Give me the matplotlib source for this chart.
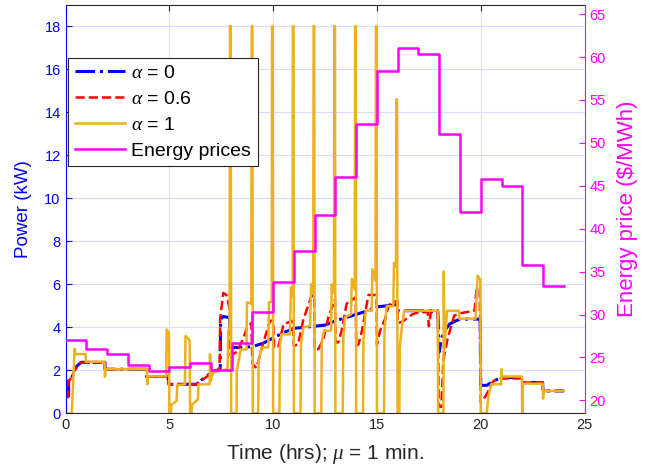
import matplotlib
matplotlib.use("Agg")
import matplotlib.pyplot as plt
import numpy as np

plt.rcParams['font.family'] = ['Liberation Sans', 'DejaVu Sans']
plt.rcParams['mathtext.fontset'] = 'custom'
plt.rcParams['mathtext.it'] = 'Liberation Serif:italic'
plt.rcParams['mathtext.rm'] = 'Liberation Sans'

# ---- data ----
price_hours = list(range(25))
prices = [27.0, 26.0, 25.4, 24.1, 23.4, 23.9, 24.4, 23.6, 26.7, 30.35, 33.85, 37.4,
          41.6, 46.0, 52.2, 58.4, 61.0, 60.4, 51.0, 41.9, 45.85, 45.0, 35.8, 33.3]

t_a0 = [0, 0.15, 0.15, 0.3, 0.4, 0.55, 0.75, 1.9, 1.9, 3.9, 3.9, 4.95, 4.95, 6.3, 6.8,
        7.2, 7.45, 7.47, 7.6, 7.9, 7.92, 8.5, 9.0, 9.5, 10.0, 10.5, 11.0, 11.5, 12.0,
        12.5, 13.0, 13.5, 14.0, 14.5, 15.0, 15.5, 15.95, 16.0, 17.93, 18.0, 18.1, 18.3,
        18.5, 18.8, 19.0, 19.97, 20.0, 20.3, 20.6, 21.0, 21.97, 22.0, 22.98, 23.0, 24.0]
p_a0 = [0.8, 0.8, 1.6, 1.6, 1.97, 2.2, 2.37, 2.37, 2.05, 2.05, 1.71, 1.71, 1.35, 1.35, 1.74,
        1.97, 2.05, 4.38, 4.5, 4.45, 3.06, 3.06, 3.1, 3.25, 3.5, 3.75, 3.95, 4.0, 4.05,
        4.1, 4.3, 4.45, 4.6, 4.75, 4.95, 5.0, 5.05, 4.77, 4.77, 2.85, 3.45, 3.9,
        4.15, 4.3, 4.38, 4.38, 1.3, 1.3, 1.5, 1.66, 1.66, 1.43, 1.43, 1.04, 1.04]

t_a06 = [0, 0.12, 0.14, 0.3, 0.4, 0.55, 0.75, 1.9, 1.9, 3.9, 3.9, 4.95, 4.95, 6.3, 6.8,
         7.2, 7.42, 7.45, 7.6, 7.75, 7.92, 7.95, 8.25, 8.57, 8.75, 8.95, 9.0, 9.2, 9.5,
         9.85, 10.0, 10.05, 10.25, 10.5, 10.95, 11.0, 11.2, 11.46, 11.86, 11.98, 12.0,
         12.18, 12.42, 12.66, 12.9, 12.98, 13.0, 13.14, 13.3, 13.54, 13.98, 14.0, 14.11,
         14.27, 14.59, 14.98, 15.0, 15.15, 15.39, 15.55, 15.71, 15.98, 16.0, 16.2, 16.7,
         17.0, 17.45, 17.5, 17.6, 17.93, 17.98, 18.1, 18.2, 18.4, 18.72, 19.0, 19.7, 19.8,
         19.95, 20.0, 20.2, 20.4, 20.6, 21.0, 21.97, 22.0, 22.98, 23.0, 24.0]
p_a06 = [0.75, 0.75, 1.5, 1.65, 1.95, 2.15, 2.35, 2.35, 2.05, 2.05, 1.7, 1.7, 1.35, 1.35, 1.7,
         1.95, 2.05, 4.4, 5.6, 5.5, 4.8, 2.7, 2.85, 3.5, 4.0, 4.2, 2.3, 2.1, 3.2,
         4.3, 4.3, 3.06, 3.06, 4.15, 4.3, 3.14, 3.2, 4.38, 5.47, 5.47, 2.98,
         2.98, 3.45, 4.46, 5.1, 5.3, 3.3, 3.3, 3.84, 5.1, 5.4, 3.14, 3.2,
         3.8, 5.5, 5.5, 3.2, 3.84, 4.38, 4.95, 5.2, 5.2, 4.2, 4.24, 4.6,
         4.7, 4.7, 4.05, 4.7, 4.77, 0.3, 0.3, 2.5, 3.45, 4.54, 4.65, 4.77, 5.8,
         5.8, 0.5, 0.75, 1.1, 1.5, 1.62, 1.62, 1.43, 1.43, 1.04, 1.04]

t_a1 = [0, 0.3, 0.44, 0.48, 0.97, 0.98, 1.88, 1.9, 1.93, 3.92, 3.94, 3.97, 4.85, 4.87,
        4.98, 5.0, 5.08, 5.1, 5.35, 5.38, 5.75, 5.78, 5.98, 6.0, 6.07, 6.09, 6.38, 6.4,
        6.94, 6.96, 7.0, 7.1, 7.8, 7.85, 7.9, 7.92, 7.96, 7.98,
        8.24, 8.25, 8.41, 8.43, 8.72, 8.74, 8.95, 8.97, 9.0, 9.02,
        9.28, 9.3, 9.45, 9.77, 9.8, 9.93, 9.95, 9.98, 10.0,
        10.3, 10.33, 10.41, 10.81, 10.86, 10.94, 10.95, 10.98, 11.0,
        11.32, 11.34, 11.46, 11.78, 11.83, 11.93, 11.95, 11.98, 12.0,
        12.32, 12.34, 12.45, 12.79, 12.82, 12.93, 12.95, 12.98, 13.0,
        13.35, 13.38, 13.46, 13.75, 13.79, 13.93, 13.95, 13.98, 14.0,
        14.33, 14.35, 14.46, 14.75, 14.78, 14.93, 14.95, 14.98, 15.0,
        15.34, 15.36, 15.47, 15.79, 15.82, 15.92, 15.94, 15.97, 15.99,
        16.08, 16.1, 16.15, 16.3, 16.32, 17.93, 17.95, 18.2, 18.22, 18.25, 18.38,
        18.95, 18.97, 19.75, 19.85, 19.98, 20.0, 20.29, 20.37, 20.5, 20.98, 21.0,
        21.02, 21.98, 22.0, 22.02, 22.98, 23.0, 23.04, 24.0]
p_a1 = [0, 0, 3.0, 2.75, 2.75, 2.4, 2.4, 1.7, 2.05, 2.05, 1.35, 1.72, 1.72, 3.9,
        3.75, 0, 0, 0.4, 0.57, 1.3, 1.35, 3.6, 3.4, 0, 0, 0.4, 0.65, 1.35,
        1.35, 2.75, 1.5, 1.9, 2.05, 3.9, 3.9, 18, 18, 0,
        0, 2.0, 2.8, 2.97, 2.97, 5.16, 5.1, 18, 18, 0,
        0, 2.44, 3.06, 3.06, 5.16, 5.2, 18, 18, 0,
        0, 3.2, 3.67, 3.67, 5.85, 5.47, 18, 18, 0,
        0, 3.22, 4.0, 4.05, 6.0, 5.55, 18, 18, 0,
        0, 3.3, 3.84, 3.84, 6.0, 5.6, 18, 18, 0,
        0, 3.5, 4.46, 4.6, 6.25, 5.75, 18, 18, 0,
        0, 3.35, 4.77, 4.77, 6.7, 6.15, 18, 18, 0,
        0, 3.8, 4.98, 4.98, 7.0, 6.8, 14.6, 14.6, 0,
        0, 3.0, 3.6, 4.7, 4.77, 4.77, 0, 0, 6.6, 3.0, 4.77,
        4.77, 4.4, 4.4, 6.4, 6.2, 0, 0, 0.8, 1.35, 1.35, 2.05,
        1.71, 1.71, 0, 1.38, 1.38, 0.68, 1.04, 1.04]

labels = [r'$\alpha$ = 0', r'$\alpha$ = 0.6', r'$\alpha$ = 1', 'Energy prices']
x_ticks = [0, 5, 10, 15, 20, 25]
left_ticks = list(range(0, 19, 2))
right_ticks = list(range(20, 66, 5))

BLUE = '#0000FF'
RED = '#FF0000'
ORANGE = '#EDB120'
MAGENTA = '#FF00FF'
DARK = '#262626'

fig = plt.figure(figsize=(6.48, 4.67), dpi=100)
ax = fig.add_axes([0.1011, 0.115, 0.8010, 0.875])

l0, = ax.plot(t_a0, p_a0, linestyle='-.', color=BLUE, lw=2.2)
l1, = ax.plot(t_a06, p_a06, linestyle='--', color=RED, lw=1.8)
l2, = ax.plot(t_a1, p_a1, linestyle='-', color=ORANGE, lw=1.8)

ax.set_xlim(0, 25)
ax.set_ylim(0, 19)
ax.set_xticks(x_ticks)
ax.set_yticks(left_ticks)
ax.set_axisbelow(True)
ax.yaxis.grid(True, color='#dadaff', lw=0.8)
ax.xaxis.grid(True, color='#e3e3e3', lw=0.8)

ax.tick_params(axis='x', direction='in', colors=DARK, labelsize=10.5, top=True, length=4)
ax.tick_params(axis='y', direction='in', colors=BLUE, labelsize=10.5, length=4)
ax.spines['left'].set_color(BLUE)
ax.spines['bottom'].set_color(DARK)
ax.spines['top'].set_color(DARK)
ax.spines['right'].set_visible(False)
ax.set_xlabel(r'Time (hrs); $\mu$ = 1 min.', fontsize=15, color=DARK, labelpad=7)
ax.set_ylabel('Power (kW)', fontsize=13.5, color=BLUE, labelpad=9)

ax2 = ax.twinx()
l3, = ax2.step(price_hours, prices + [prices[-1]], where='post', color=MAGENTA, lw=1.8)
ax2.set_ylim(18.5, 66.1)
ax2.set_yticks(right_ticks)
ax2.tick_params(axis='y', direction='in', colors=MAGENTA, labelsize=10.5, length=4)
ax2.spines['right'].set_color(MAGENTA)
ax2.spines['left'].set_visible(False)
ax2.spines['top'].set_visible(False)
ax2.spines['bottom'].set_visible(False)
ax2.set_ylabel(r'Energy price (\$/MWh)', fontsize=16, color=MAGENTA, labelpad=8)

leg = ax2.legend([l0, l1, l2, l3], labels, loc='upper left',
                 bbox_to_anchor=(0.005, 0.87), borderaxespad=0, fontsize=14,
                 fancybox=False, framealpha=1, edgecolor=DARK, handlelength=2.6,
                 handletextpad=0.3, borderpad=0.35, labelspacing=0.42)
leg.get_frame().set_linewidth(0.8)

fig.savefig('out.png', dpi=100)
